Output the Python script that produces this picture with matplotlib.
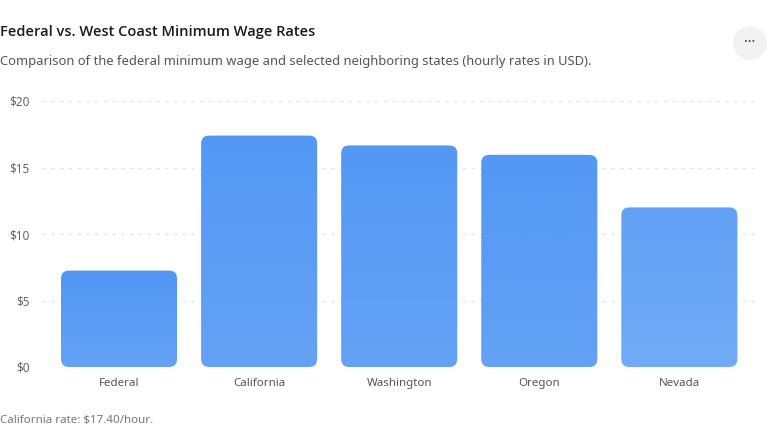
import matplotlib
matplotlib.use("Agg")
import matplotlib.pyplot as plt
import numpy as np
from matplotlib.patches import FancyBboxPatch, Circle
from matplotlib.colors import LinearSegmentedColormap
from matplotlib.transforms import IdentityTransform

plt.rcParams['font.family'] = ['Noto Sans', 'DejaVu Sans']

categories = ["Federal", "California", "Washington", "Oregon", "Nevada"]
wages = [7.25, 17.40, 16.66, 15.95, 12.00]
yticks = [0, 5, 10, 15, 20]
ytick_labels = ["$0", "$5", "$10", "$15", "$20"]
top_colors = ["#5297f4", "#5498f4", "#5498f4", "#5398f5", "#62a1f5"]
bottom_colors = ["#63a2f5", "#64a2f5", "#64a2f5", "#63a2f5", "#71abf7"]

W, H = 768, 432
fig = plt.figure(figsize=(W/100, H/100), dpi=100)
fig.patch.set_facecolor("white")

ax_left, ax_right = 42, 755
ax_top, ax_bot = 101, 367
ax = fig.add_axes([ax_left/W, 1 - ax_bot/H, (ax_right-ax_left)/W, (ax_bot-ax_top)/H])
ax.set_facecolor("none")
for s in ax.spines.values():
    s.set_visible(False)

for t in yticks:
    ax.axhline(t, color="#e3e3e3", lw=0.9, ls=(0, (3, 4)), zorder=0)

ax.set_yticks(yticks)
ax.set_yticklabels(ytick_labels, fontsize=8.5, color="#666666")
ax.set_xticks(range(len(categories)))
ax.set_xticklabels(categories, fontsize=8.3, color="#555555")
ax.tick_params(axis='both', length=0)
ax.tick_params(axis='y', pad=9)
ax.tick_params(axis='x', pad=8)

bar_w = 116/140
xpx = 140.0
ypx = (ax_bot - ax_top) / 20.0
radius_px = 8
rs = radius_px / xpx
aspect = xpx / ypx

for i, (v, tc, bc) in enumerate(zip(wages, top_colors, bottom_colors)):
    x0 = i - bar_w/2
    patch = FancyBboxPatch((x0, 0), bar_w, v,
                           boxstyle=f"round,pad=0,rounding_size={rs}",
                           mutation_aspect=aspect,
                           facecolor="none", edgecolor="none", zorder=2)
    ax.add_patch(patch)
    cmap = LinearSegmentedColormap.from_list(f"g{i}", [bc, tc])
    grad = np.linspace(0, 1, 256).reshape(-1, 1)
    im = ax.imshow(grad, extent=(x0, x0 + bar_w, 0, v), origin="lower",
                   cmap=cmap, aspect="auto", zorder=2, interpolation="bicubic")
    im.set_clip_path(patch)

ax.set_xlim(-0.55, 4.54)
ax.set_ylim(0, 20)

fig.text(0/W, 1 - 32/H, "Federal vs. West Coast Minimum Wage Rates",
         fontsize=10.5, fontweight="semibold", family=["Open Sans", "DejaVu Sans"],
         color="#1a1a1a", va="center", ha="left")
fig.text(0/W, 1 - 62/H,
         "Comparison of the federal minimum wage and selected neighboring states (hourly rates in USD).",
         fontsize=9.35, color="#555555", va="center", ha="left")
fig.text(0/W, 1 - 420/H, "California rate: $17.40/hour.",
         fontsize=8.3, color="#777777", va="center", ha="left")

circ = Circle((750, H - 43), 17, transform=IdentityTransform(),
              facecolor="#f2f2f2", edgecolor="none")
fig.patches.append(circ)
fig.text(750/W, 1 - 42/H, "···", fontsize=10, color="#333333",
         ha="center", va="center")

fig.savefig("out.png", dpi=100, facecolor="white")
